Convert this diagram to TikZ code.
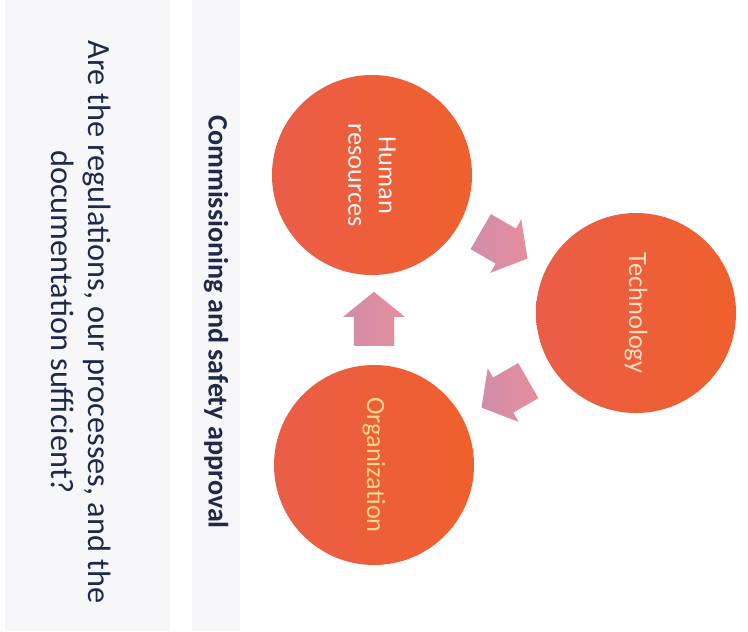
\documentclass[tikz,border=0pt]{standalone}
\usepackage{fontspec}
\setmainfont{Carlito}
\usetikzlibrary{shapes.arrows}
\definecolor{inknavy}{HTML}{1F2A4A}
\definecolor{bandgray}{HTML}{F7F7F9}
\definecolor{ballred}{HTML}{EA5D48}
\definecolor{ballorange}{HTML}{F0602C}
\definecolor{arrowlilac}{HTML}{D08DAA}
\definecolor{arrowpink}{HTML}{E68E9C}
\begin{document}
\begin{tikzpicture}[x=0.03cm,y=-0.03cm,
    ball/.style={circle, minimum size=6cm, inner sep=0pt, left color=ballred, right color=ballorange,
        align=center, rotate=-90, font=\fontsize{22.5}{26}\selectfont},
    cyclearrow/.style={single arrow, left color=arrowlilac, right color=arrowpink, minimum height=1.62cm,
        inner xsep=0pt, inner ysep=0.6cm, single arrow head extend=0.32cm, single arrow tip angle=102}]
    \useasboundingbox (0,0) rectangle (748,631);
    \fill[white] (0,0) rectangle (748,631);
    % background bands
    \fill[bandgray] (5,0) rectangle (170,631);
    \fill[bandgray] (192,0) rectangle (240,631);
    % texts
    \node[rotate=-90, align=center, text=inknavy, font=\fontsize{27.6}{31}\selectfont] (question) at (81,322)
        {Are the regulations, our processes, and the\\documentation sufficient?};
    \node[rotate=-90, text=inknavy, font=\bfseries\fontsize{24}{28}\selectfont] (title) at (216,322)
        {Commissioning and safety approval};
    % cycle
    \node[ball, text=white!85!pink] (hr) at (372,175) {Human\\resources};
    \node[ball, text=orange!25!white] (tech) at (636,313) {Technology};
    \node[ball, text=yellow!40!orange!45!white] (org) at (374,465) {Organization};
    \node[cyclearrow, rotate=-30] (hrtech) at (497,241) {};
    \node[cyclearrow, rotate=210] (techorg) at (512,390) {};
    \node[cyclearrow, rotate=90] (orghr) at (374,327) {};
\end{tikzpicture}
\end{document}
